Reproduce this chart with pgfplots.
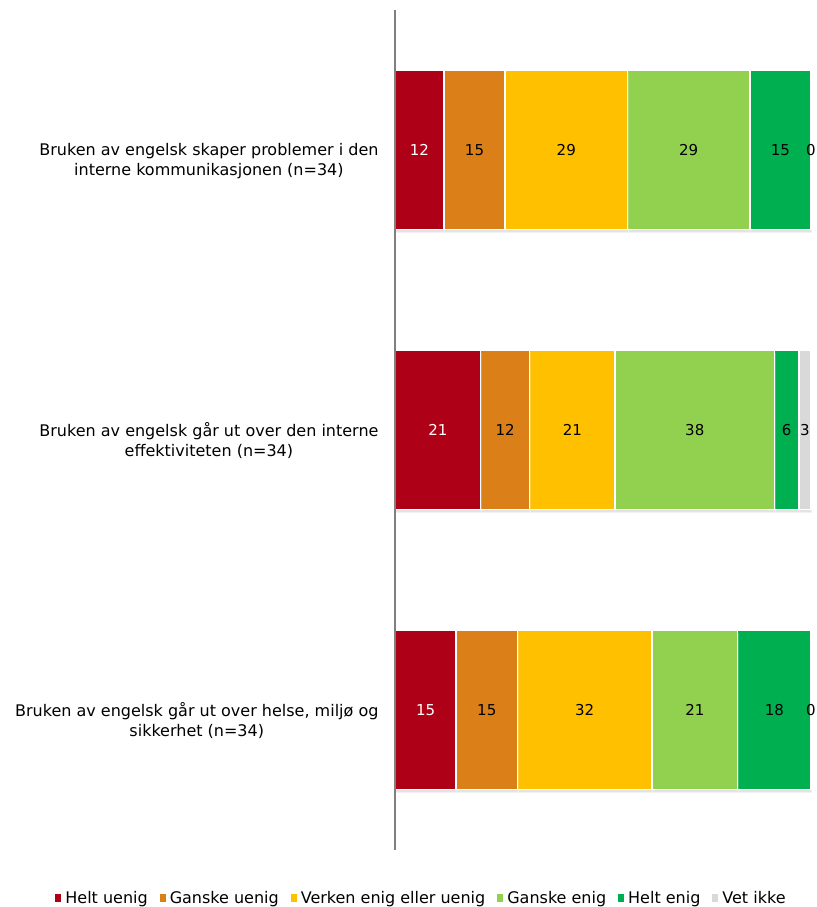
\documentclass[border=0pt]{standalone}
\usepackage{pgfplots}
\pgfplotsset{compat=1.18}
\usetikzlibrary{shadows}
\usepackage{fontspec}
\setmainfont{DejaVu Sans}
\definecolor{cHU}{RGB}{174,0,22}
\definecolor{cGU}{RGB}{219,127,25}
\definecolor{cVE}{RGB}{255,192,0}
\definecolor{cGE}{RGB}{146,208,80}
\definecolor{cHE}{RGB}{0,176,80}
\definecolor{cVI}{RGB}{217,217,217}
\definecolor{axgray}{RGB}{128,128,128}
\pgfplotsset{
  lsq/.style={legend image code/.code={%
    \fill[#1, draw=none] (0bp,-4bp) rectangle (6bp,4bp);
    \path[draw=none] (0bp,0bp) -- (8bp,0bp);}},
  bsty/.style={fill=#1, draw=white, line width=1.5bp, forget plot,
    drop shadow={shadow xshift=0.5bp, shadow yshift=-3bp, opacity=0.22}},
}
\begin{document}
\begin{tikzpicture}[font=\fontsize{16bp}{20bp}\selectfont]
\path[use as bounding box] (0,0) rectangle (817bp,907bp);
\begin{axis}[
  at={(395bp,57bp)}, anchor=south west,
  scale only axis, width=416bp, height=840bp,
  xbar stacked, bar width=159bp,
  xmin=0, xmax=100, ymin=-0.5, ymax=2.5,
  clip=false, axis on top,
  y dir=reverse,
  axis y line*=left, axis x line=none,
  y axis line style={draw=axgray, line width=1.2bp, -},
  xtick=\empty,
  ytick={0,1,2}, major tick length=0pt,
  yticklabels={{Bruken av engelsk skaper problemer i den\\interne kommunikasjonen (n=34)},
               {Bruken av engelsk går ut over den interne\\effektiviteten (n=34)},
               {Bruken av engelsk går ut over helse, miljø og\\sikkerhet (n=34)}},
  yticklabel style={align=center, xshift=-13bp, yshift=-11bp},
  /pgf/number format/assume math mode=true,
  point meta=rawx,
  nodes near coords={\pgfmathprintnumber[fixed,precision=0]{\pgfplotspointmeta}},
  every node near coord/.append style={anchor=center, text=black,
     font=\fontsize{15bp}{18bp}\selectfont},
  legend columns=6,
  legend style={at={(0.0637,-0.057)}, anchor=center, draw=none, fill=none,
    font=\fontsize{16bp}{18bp}\selectfont,
    /tikz/every even column/.append style={column sep=10bp}, inner sep=0pt},
  legend cell align=left,
]
\addplot[bsty=cHU, every node near coord/.append style={text=white}] coordinates {(11.76,0) (20.59,1) (14.71,2)};
\addplot[bsty=cGU] coordinates {(14.71,0) (11.76,1) (14.71,2)};
\addplot[bsty=cVE] coordinates {(29.41,0) (20.59,1) (32.35,2)};
\addplot[bsty=cGE] coordinates {(29.41,0) (38.24,1) (20.59,2)};
\addplot[bsty=cHE] coordinates {(14.71,0) (5.88,1) (17.64,2)};
\addplot[bsty=cVI] coordinates {(0.001,0) (2.94,1) (0.001,2)};
\addlegendimage{lsq=cHU}
\addlegendimage{lsq=cGU}
\addlegendimage{lsq=cVE}
\addlegendimage{lsq=cGE}
\addlegendimage{lsq=cHE}
\addlegendimage{lsq=cVI}
\legend{Helt uenig, Ganske uenig, Verken enig eller uenig, Ganske enig, Helt enig, Vet ikke}
\end{axis}
\end{tikzpicture}
\end{document}
